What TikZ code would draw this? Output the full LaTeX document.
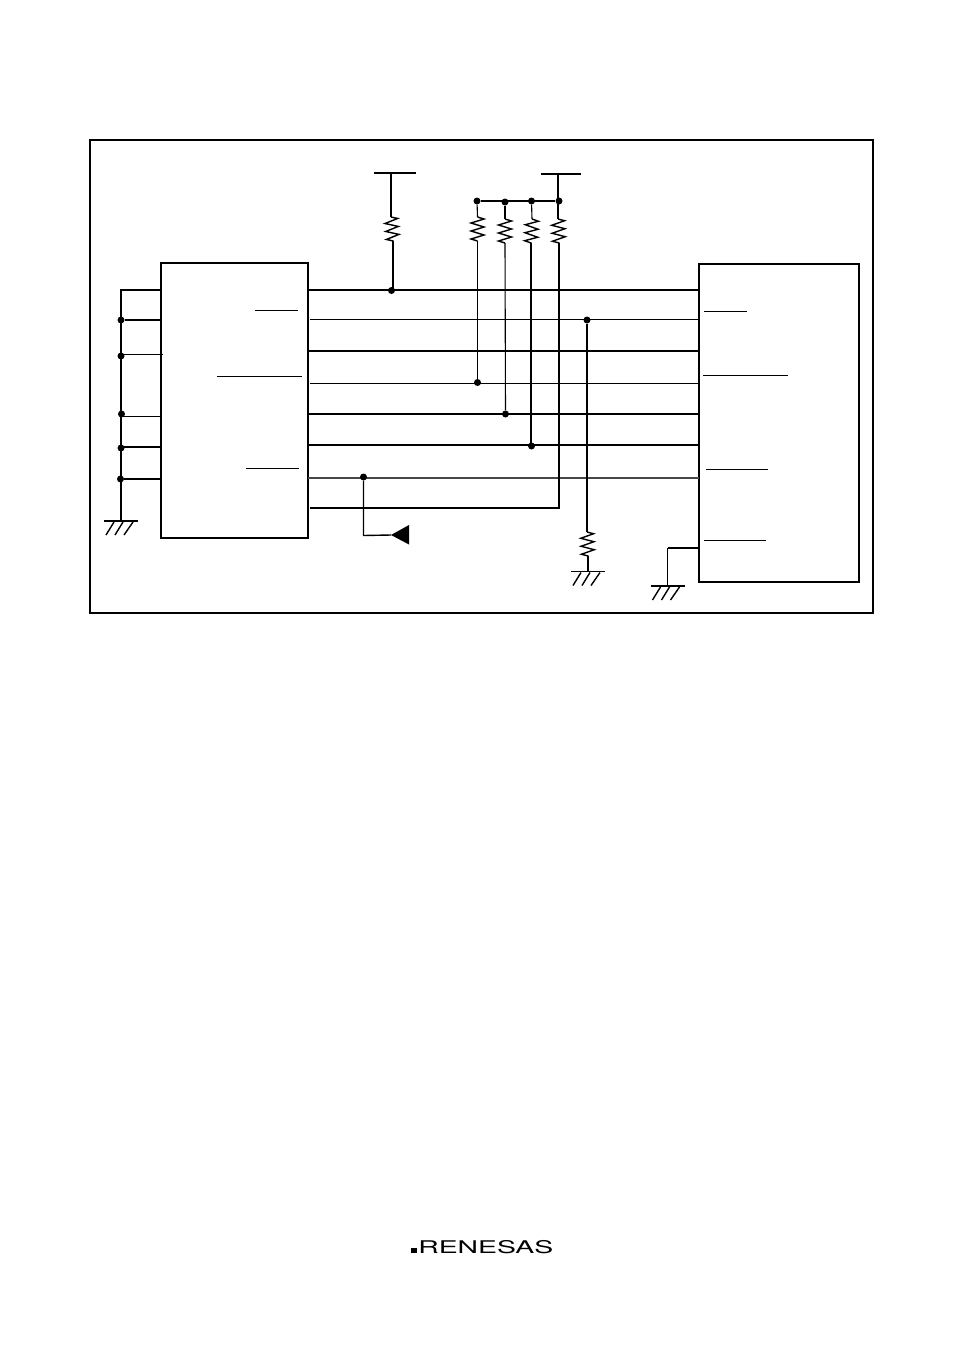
\documentclass[tikz,border=0pt]{standalone}
\usepackage{fontspec}
\newfontfamily\logofont{TeX Gyre Heros}
\usetikzlibrary{decorations.pathmorphing}
\tikzset{
 wthick/.style={line width=2pt},
 wthin/.style={line width=1.1pt},
 wgray/.style={line width=2pt,black!72},
 barline/.style={line width=1.1pt},
 res/.style={line width=1.4pt,decorate,decoration={zigzag,amplitude=6.5pt,segment length=8pt}},
 jdot/.style={circle,fill=black,inner sep=0pt,minimum size=7pt},
 icbox/.style={draw,line width=2pt,inner sep=0pt},
 gnd/.pic={
  \draw[line width=1.7pt] (-17,0)--(17,0);
  \draw[line width=1.4pt] (-7,1)--(-15,14);
  \draw[line width=1.4pt] (2,1)--(-6,14);
  \draw[line width=1.4pt] (12,1)--(3,14);
 }
}
\begin{document}
\begin{tikzpicture}[x=1pt,y=-1pt]
\useasboundingbox (0,0) rectangle (954,1354);
\node[draw,line width=2.1pt,inner sep=0pt,minimum width=783pt,minimum height=473pt] (frame) at (481.5,376.5) {};
% the two devices
\node[icbox,minimum width=147pt,minimum height=275pt] (icleft) at (234.5,400.5) {};
\node[icbox,minimum width=160pt,minimum height=318pt] (icright) at (779,423) {};
% left bus
\coordinate (bustop) at (121,290);
\coordinate (busgnd) at (121,521);
\coordinate (la) at (161,290);
\coordinate (lb) at (161,320);
\coordinate (lc) at (163,354.5);
\coordinate (ld) at (161,416.5);
\coordinate (le) at (161,447);
\coordinate (lf) at (161,479);
\node[jdot] (ja) at (121,320) {};
\node[jdot] (jb) at (121,356) {};
\node[jdot] (jc) at (121.5,414) {};
\node[jdot] (jd) at (121,448) {};
\node[jdot] (je) at (120.5,479) {};
\draw[wthick] (la)--(bustop)--(busgnd);
\draw[wthick] (ja)--(lb);
\draw[wthin] (jb.center|-lc)--(lc);
\draw[wthin] (jc.center|-ld)--(ld);
\draw[wthin] (jd.center|-le)--(le);
\draw[wthick] (je)--(lf);
\pic at (busgnd) {gnd};
% lines between the devices
\coordinate (aa) at (308,290);
\coordinate (ab) at (699,290);
\coordinate (ba) at (310,319.5);
\coordinate (bb) at (699,319.5);
\coordinate (ca) at (308,351);
\coordinate (cb) at (699,351);
\coordinate (da) at (310,383.5);
\coordinate (db) at (699,383.5);
\coordinate (ea) at (308,414);
\coordinate (eb) at (699,414);
\coordinate (fa) at (308,445);
\coordinate (fb) at (699,445);
\coordinate (ga) at (308,477.5);
\coordinate (gb) at (699,477.5);
\coordinate (ha) at (310,508);
\draw[wthick] (aa)--(ab);
\draw[wthin] (ba)--(bb);
\draw[wthick] (ca)--(cb);
\draw[wthin] (da)--(db);
\draw[wthick] (ea)--(eb);
\draw[wthick] (fa)--(fb);
\draw[wgray] (ga)--(gb);
% supply on the left
\coordinate (vaa) at (374,173);
\coordinate (vab) at (416,173);
\coordinate (vam) at (391,173);
\coordinate (ratop) at (391,217);
\coordinate (rabot) at (393,241);
\node[jdot] (jra) at (391.5,290.5) {};
\draw[line width=1.7pt] (vaa)--(vab);
\draw[wthin] (vam)--(ratop);
\draw[res] (ratop)--(rabot);
\draw[wthick] (rabot)--(rabot|-jra);
% supply with four pull-ups
\coordinate (vba) at (541,174);
\coordinate (vbb) at (581,174);
\coordinate (vbm) at (558,174);
\node[jdot] (jpa) at (477,201) {};
\node[jdot] (jpb) at (505,202) {};
\node[jdot] (jpc) at (531.5,201) {};
\node[jdot] (jpd) at (559,201) {};
\coordinate (rbt) at (477.5,217);
\coordinate (rbb) at (477.5,241);
\coordinate (rct) at (505,219);
\coordinate (rcb) at (505,243);
\coordinate (rdt) at (532,219);
\coordinate (rdb) at (531,243);
\coordinate (ret) at (558,219);
\coordinate (reb) at (559,243);
\coordinate (hb) at (559,508);
\node[jdot] (jpe) at (477.5,382.5) {};
\node[jdot] (jpf) at (505.5,414) {};
\node[jdot] (jpg) at (531.5,446) {};
\draw[line width=1.7pt] (vba)--(vbb);
\draw[wthick] (jpa)--(jpd);
\draw[wthick] (vbm)--(ret);
\draw[wthin] (jpa)--(rbt);
\draw[wthin] (jpb)--(rct);
\draw[wthin] (jpc)--(rdt);
\draw[res] (rbt)--(rbb);
\draw[res] (rct)--(rcb);
\draw[res] (rdt)--(rdb);
\draw[res] (ret)--(reb);
\draw[wthin] (rbb)--(jpe);
\draw[wthin] (rcb)--(jpf);
\draw[wthick] (rdb)--(rdb|-jpg);
\draw[wthick] (ha)--(hb)--(reb);
% pull-down
\node[jdot] (jdn) at (587,320) {};
\coordinate (rft) at (587,532);
\coordinate (rfb) at (588,556);
\coordinate (gndb) at (588,571.5);
\draw[wthick] (jdn)--(rft);
\draw[res] (rft)--(rfb);
\draw[line width=1.5pt] (rfb)--(gndb);
\pic at (gndb) {gnd};
% branch to the triangle
\node[jdot] (jtr) at (363.5,477) {};
\coordinate (trc) at (363.5,535.5);
\coordinate (trap) at (391,535);
\coordinate (trup) at (409,525);
\coordinate (trlo) at (409,544.5);
\draw[line width=1.4pt] (jtr)--(trc)--(trap);
\fill (trap)--(trup)--(trlo)--cycle;
% right device to ground
\coordinate (gra) at (699,548);
\coordinate (grb) at (667.5,548);
\coordinate (gndc) at (667.5,586);
\draw[wthick] (gra)--(grb);
\draw[wthin] (grb)--(gndc);
\pic at (gndc) {gnd};
% overbars
\draw[barline] (255,310.3)--(298,310.3);
\draw[barline] (217,376.3)--(302,376.3);
\draw[barline] (246,468.3)--(299,468.3);
\draw[barline] (704,311.3)--(747,311.3);
\draw[barline] (703,375.3)--(788,375.3);
\draw[barline] (706,469.3)--(768,469.3);
\draw[barline] (704,540.3)--(766,540.3);
% logo
\fill (411,1247.5) rectangle (417,1253);
\node[inner sep=0pt,anchor=base west,xscale=1.62,font=\logofont\fontsize{17.5}{18}\selectfont] (logo) at (418,1253) {RENESAS};
\end{tikzpicture}
\end{document}
